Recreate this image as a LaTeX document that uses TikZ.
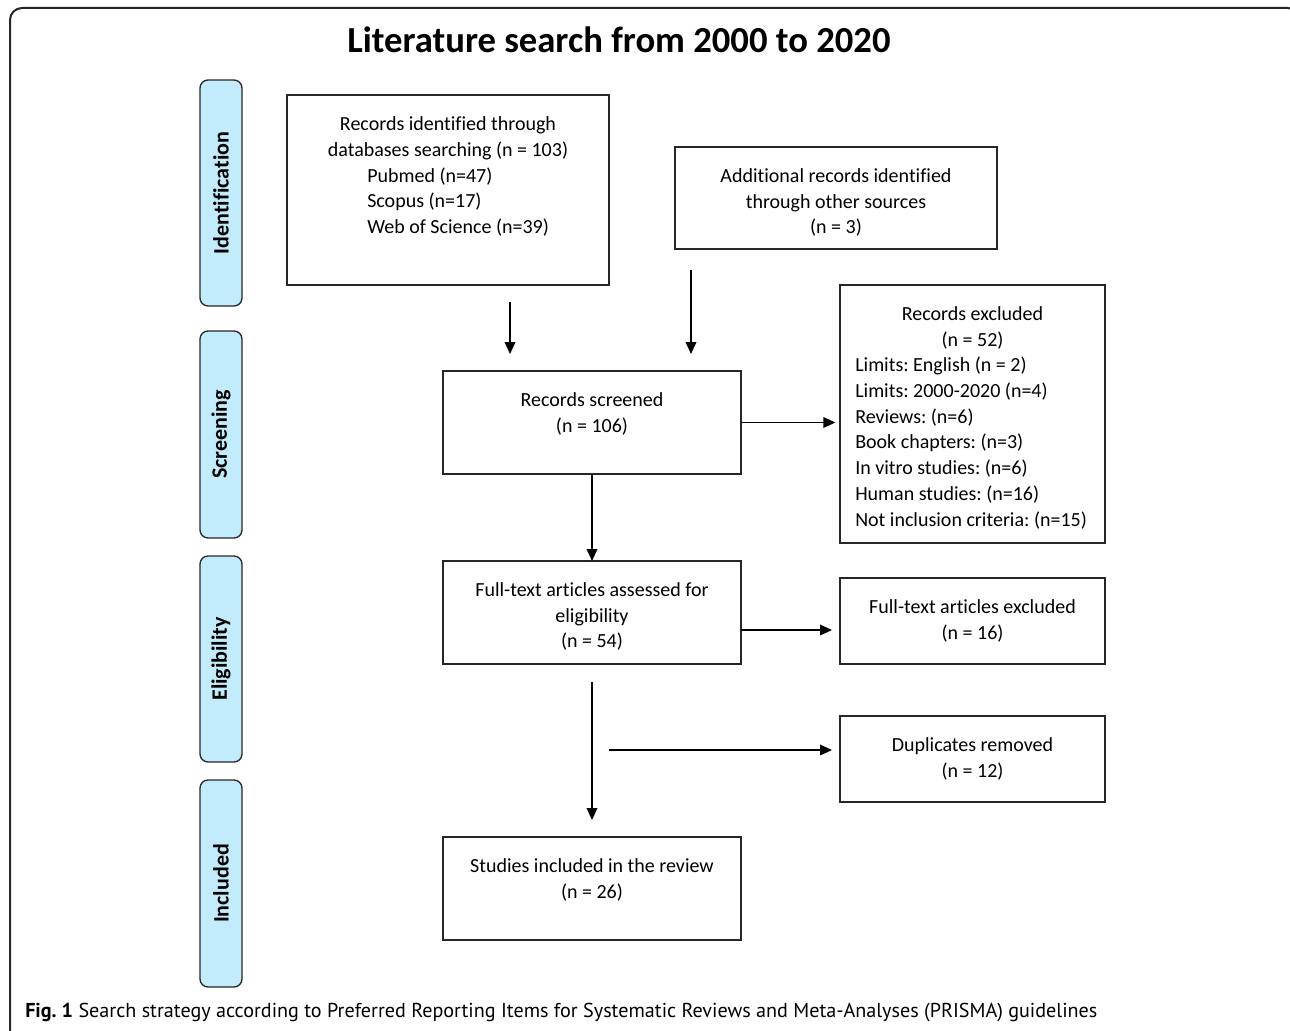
\documentclass[tikz,border=0pt]{standalone}
\usepackage{fontspec}
\setmainfont[Ligatures=CommonOff]{Carlito}
\newfontfamily\capfont{PT Sans}
\usetikzlibrary{arrows.meta}
\definecolor{phase}{RGB}{194,236,251}
\frenchspacing
\begin{document}
\begin{tikzpicture}[x=0.75pt,y=-0.75pt,
  box/.style={draw=black!85, line width=1pt, inner sep=0pt, outer sep=0pt},
  phasebox/.style={draw=black!85, fill=phase, line width=1pt, rounded corners=6pt, inner sep=0pt,
    rotate=90, minimum height=42*0.75pt, font=\fontsize{16.5}{20}\selectfont\bfseries},
  txt/.style={font=\fontsize{15}{19.3}\selectfont, inner sep=0pt, anchor=north, align=center},
  ltxt/.style={font=\fontsize{15}{19.3}\selectfont, inner sep=0pt, anchor=north west, align=left},
  arr/.style={line width=1.1pt, -{Triangle[length=9pt,width=8pt]}}
]
\useasboundingbox (0,0) rectangle (1290,1031);
\begin{scope}
  \clip (0,0) rectangle (1290,1031);
  \draw[line width=1.5pt, black!85, rounded corners=9pt] (10,8) rectangle (1300,1050);
\end{scope}

% title
\node[font=\fontsize{27.5}{32}\selectfont\bfseries] (title) at (619,40) {Literature search from 2000 to 2020};

% phase labels
\node[phasebox, minimum width=226*0.75pt] (pid) at (221,193) {Identification};
\node[phasebox, minimum width=207*0.75pt] (psc) at (221,434.5) {Screening};
\node[phasebox, minimum width=206*0.75pt] (pel) at (221,659) {Eligibility};
\node[phasebox, minimum width=207*0.75pt] (pin) at (221,883.5) {Included};

% boxes
\node[box, minimum width=322*0.75pt, minimum height=190*0.75pt] (rid) at (448,190) {};
\node[box, minimum width=322*0.75pt, minimum height=102*0.75pt] (add) at (836,198) {};
\node[box, minimum width=298*0.75pt, minimum height=103*0.75pt] (scr) at (592,422.5) {};
\node[box, minimum width=265*0.75pt, minimum height=258*0.75pt] (exc) at (972.5,414) {};
\node[box, minimum width=298*0.75pt, minimum height=103*0.75pt] (fta) at (592,612.5) {};
\node[box, minimum width=265*0.75pt, minimum height=86*0.75pt] (fte) at (972.5,621) {};
\node[box, minimum width=265*0.75pt, minimum height=86*0.75pt] (dup) at (972.5,759) {};
\node[box, minimum width=298*0.75pt, minimum height=103*0.75pt] (inc) at (592,888.5) {};

% texts
\node[txt] (rid-t) at (448,112.5) {\strut Records identified through\\databases searching (n = 103)};
\node[ltxt] (rid-l) at (367,163.9) {\strut Pubmed (n=47)\\Scopus (n=17)\\Web of Science (n=39)};
\node[txt] (add-t) at (836,164) {\strut Additional records identified\\through other sources\\(n = 3)};
\node[txt] (scr-t) at (592,388) {\strut Records screened\\(n = 106)};
\node[txt] (exc-t) at (972.5,302) {\strut Records excluded\\(n = 52)};
\node[ltxt] (exc-l) at (855,353.4) {\strut Limits: English (n = 2)\\Limits: 2000-2020 (n=4)\\Reviews: (n=6)\\Book chapters: (n=3)\\In vitro studies: (n=6)\\Human studies: (n=16)\\Not inclusion criteria: (n=15)};
\node[txt] (fta-t) at (592,578) {\strut Full-text articles assessed for\\eligibility\\(n = 54)};
\node[txt] (fte-t) at (972.5,595) {\strut Full-text articles excluded\\(n = 16)};
\node[txt] (dup-t) at (972.5,733) {\strut Duplicates removed\\(n = 12)};
\node[txt] (inc-t) at (592,854) {\strut Studies included in the review\\(n = 26)};

% caption
\node[anchor=west, inner sep=0pt, font=\capfont\fontsize{15.1}{18}\selectfont] (cap) at (25,1013)
  {\textbf{Fig. 1} Search strategy according to Preferred Reporting Items for Systematic Reviews and Meta-Analyses (PRISMA) guidelines};

% connector end points
\coordinate (a1s) at (510,302);
\coordinate (a1e) at (510,354);
\coordinate (a2s) at (691,270);
\coordinate (a2e) at (691,354);
\coordinate (fte-in) at (832,630);
\coordinate (d1s) at (592,682);
\coordinate (d1e) at (592,820);
\coordinate (d2s) at (609,750);
\coordinate (d2e) at (832,750);

% connectors
\draw[arr] (a1s) -- (a1e);
\draw[arr] (a2s) -- (a2e);
\draw[arr, shorten >=3.5pt] (scr.east) -- (exc.west |- scr.east);
\draw[arr] (scr.south) -- (fta.north);
\draw[arr] (fta.east |- fte-in) -- (fte-in);
\draw[arr] (d1s) -- (d1e);
\draw[arr] (d2s) -- (d2e);
\end{tikzpicture}
\end{document}
